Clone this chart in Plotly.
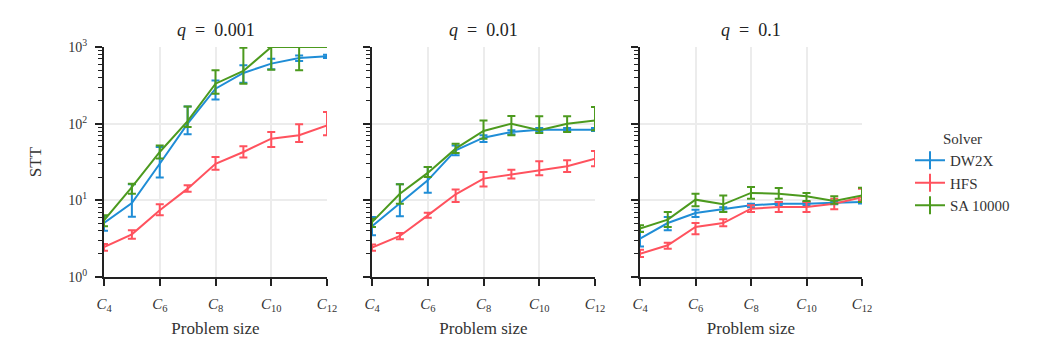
import plotly.graph_objects as go
from plotly.subplots import make_subplots
import numpy as np

sizes = [4, 5, 6, 7, 8, 9, 10, 11, 12]
q_labels = ["0.001", "0.01", "0.1"]
solvers = ["DW2X", "HFS", "SA 10000"]
colors = {"DW2X": "#1f8dd6", "HFS": "#ff525e", "SA 10000": "#4c9a1e"}

# median STT, lower and upper error bounds per q panel
dw2x_mid = [[5.06, 9.2, 30, 100, 286, 458, 607, 719, 755],
            [4.58, 9.06, 18.2, 44.9, 65.6, 77.8, 83.6, 83.6, 83.6],
            [3.16, 5.06, 6.84, 7.64, 8.6, 9.05, 9.05, 9.33, 9.5]]
dw2x_lo = [[4.0, 6.1, 19.8, 72.6, 207, 343, 512, 656, 719],
           [3.5, 6.2, 12.6, 38.6, 57.7, 73.0, 79.0, 80.0, 80.0],
           [2.5, 4.06, 6.07, 7.1, 8.1, 8.6, 8.6, 8.9, 9.1]]
dw2x_hi = [[6.2, 16.2, 49.7, 168, 367, 576, 705, 777, 794],
           [6.07, 16.2, 27.2, 52, 70.5, 82, 88, 88, 88],
           [3.9, 6.07, 7.55, 8.1, 9.0, 9.5, 9.5, 9.7, 9.9]]

hfs_mid = [[2.46, 3.6, 7.41, 14.2, 30, 42.7, 63.7, 70.5, 95],
           [2.42, 3.43, 6.37, 12, 19.2, 21.8, 24.6, 27.8, 34.9],
           [2.01, 2.59, 4.49, 5.06, 7.78, 8.18, 8.18, 9.05, 11]]
hfs_lo = [[2.2, 3.16, 6.37, 12.9, 25.1, 36.1, 49.7, 57.7, 70.5],
          [2.2, 3.1, 5.94, 9.5, 15.2, 19.2, 21.2, 23.4, 27.8],
          [1.82, 2.34, 3.6, 4.58, 7.04, 7.04, 7.04, 7.64, 10]]
hfs_hi = [[2.7, 4.06, 8.87, 15.7, 36.7, 50.6, 77.8, 98, 142],
          [2.65, 3.75, 6.9, 13.8, 23.4, 25.1, 32.3, 33.3, 44],
          [2.27, 2.8, 5.06, 5.65, 8.6, 9.5, 9.5, 10.5, 14.2]]

sa_mid = [[5.5, 14.9, 42.7, 108, 332, 487, 1000, 1000, 1000],
          [5.2, 12.2, 22.8, 47.2, 80.2, 100, 81.9, 100, 110],
          [4.27, 5.6, 10.2, 8.87, 12.5, 12.2, 11.3, 9.8, 11.6]]
sa_lo = [[4.6, 12.2, 35, 90.6, 246, 332, 506, 496, 1000],
         [4.5, 9.0, 20.1, 41.4, 63.7, 70.5, 75.5, 77.8, 81.9],
         [3.86, 4.5, 8.36, 7.04, 10.5, 10.5, 9.8, 9.05, 9.5]]
sa_hi = [[6.4, 16.5, 52, 168, 496, 980, 1000, 1000, 1000],
         [5.77, 16.2, 27.2, 54.8, 110, 126, 125, 125, 165],
         [4.72, 7.04, 12.2, 11.6, 14.9, 14.5, 12.5, 11.3, 14.6]]

data = {"DW2X": (dw2x_mid, dw2x_lo, dw2x_hi),
        "HFS": (hfs_mid, hfs_lo, hfs_hi),
        "SA 10000": (sa_mid, sa_lo, sa_hi)}

serif = '"Liberation Serif", "DejaVu Serif", serif'
ink = "#333"
W, H, OFF = 1039, 346, 8  # page body adds an 8px margin


def px_x(p):
    return (p - OFF) / W


def px_y(p):
    return 1 - (p - OFF) / H


fig = make_subplots(rows=1, cols=3, horizontal_spacing=0.0)

for j in range(3):
    for s in solvers:
        mid, lo, hi = data[s]
        m = np.array(mid[j])
        fig.add_trace(go.Scatter(
            x=sizes, y=m, mode="lines", name=s,
            line=dict(color=colors[s], width=2),
            error_y=dict(type="data", symmetric=False,
                         array=np.array(hi[j]) - m, arrayminus=m - np.array(lo[j]),
                         color=colors[s], thickness=2, width=4),
            showlegend=False, legendgroup=s,
        ), row=1, col=j + 1)

# legend entries drawn as line + vertical bar, like an error bar
for s in solvers:
    fig.add_trace(go.Scatter(
        x=[None], y=[None], mode="lines+markers", name=s, legendgroup=s,
        line=dict(color=colors[s], width=2),
        marker=dict(symbol="line-ns-open", size=13, line=dict(color=colors[s], width=2)),
    ), row=1, col=1)

domains = [(px_x(104), px_x(327)), (px_x(372), px_x(595)), (px_x(640), px_x(862))]
ydom = [px_y(277), px_y(47)]
ticks_x = [4, 6, 8, 10, 12]
minor_y = [m * 10 ** k for k in range(3) for m in range(2, 10)]
for j in range(3):
    n = "" if j == 0 else str(j + 1)
    fig.layout["xaxis" + n].update(
        domain=domains[j], range=[4, 12], automargin=False,
        tickvals=ticks_x, ticktext=[f"<i>C</i><sub>{v}</sub>" for v in ticks_x],
        showline=True, linecolor="#222", linewidth=2,
        ticks="outside", ticklen=7, tickwidth=1.5, tickcolor="#222",
        showgrid=True, gridcolor="#ececec", gridwidth=1.5, zeroline=False,
        ticklabelstandoff=5,
        tickfont=dict(family=serif, size=15, color=ink),
        title=dict(text="Problem size", font=dict(family=serif, size=17, color=ink), standoff=9),
    )
    fig.layout["yaxis" + n].update(
        type="log", range=[0, 3], domain=ydom, automargin=False,
        tickvals=[1, 10, 100, 1000],
        ticktext=["10<sup>0</sup>", "10<sup>1</sup>", "10<sup>2</sup>", "10<sup>3</sup>"] if j == 0 else ["", "", "", ""],
        showline=True, linecolor="#222", linewidth=2,
        ticks="outside", ticklen=7, tickwidth=1.5, tickcolor="#222",
        minor=dict(tickvals=minor_y, ticks="outside", ticklen=4, tickwidth=1, tickcolor="#222", showgrid=False),
        showgrid=True, gridcolor="#ececec", gridwidth=1.5, zeroline=False,
        ticklabelstandoff=5,
        tickfont=dict(family=serif, size=14, color=ink),
    )
    fig.add_annotation(
        text=f"<i>q</i>&nbsp;&nbsp;=&nbsp;&nbsp;{q_labels[j]}", xref="paper", yref="paper",
        x=(domains[j][0] + domains[j][1]) / 2, y=px_y(30),
        xanchor="center", yanchor="middle", showarrow=False,
        font=dict(family=serif, size=18, color="#222"),
    )

fig.layout.yaxis.title = dict(text="STT", font=dict(family=serif, size=17, color=ink), standoff=22)

fig.update_layout(
    width=W, height=H,
    margin=dict(l=0, r=0, t=0, b=0),
    plot_bgcolor="white", paper_bgcolor="white",
    legend=dict(
        title=dict(text="Solver", font=dict(family=serif, size=15, color=ink), side="top center"),
        font=dict(family=serif, size=15, color=ink),
        x=px_x(910), y=px_y(173), xanchor="left", yanchor="middle",
        tracegroupgap=0, itemwidth=30,
    ),
)

fig.write_html("out.html")
